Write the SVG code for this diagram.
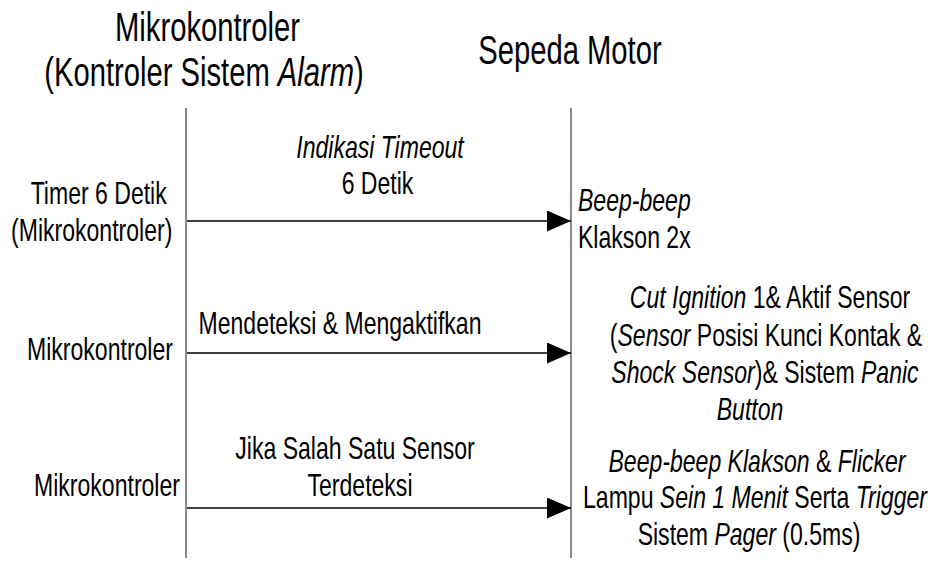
<svg xmlns="http://www.w3.org/2000/svg" width="941" height="562" viewBox="0 0 941 562">
<style>
text{font-family:"Liberation Sans",Arial,sans-serif;fill:#000;}
.h{font-size:40px;text-anchor:middle;}
.t{font-size:32px;text-anchor:middle;}
.l{font-size:32px;text-anchor:start;}
.i{font-style:italic;}
.life{stroke:#6e6e6e;stroke-width:1.6;fill:none;}
.msg{stroke:#000;stroke-width:1.4;fill:none;marker-end:url(#ah);}
</style>
<defs>
<marker id="ah" markerUnits="userSpaceOnUse" markerWidth="24" markerHeight="21" refX="24" refY="10.5" orient="auto">
<path d="M0,0 L24,10.5 L0,21 Z" fill="#000"/>
</marker>
</defs>
<rect width="941" height="562" fill="#fff"/>

<g id="mikrokontroler-lifeline">
<text class="h" transform="translate(207.5,41) scale(0.73,1)">Mikrokontroler</text>
<text class="h" transform="translate(204,86) scale(0.73,1)">(Kontroler Sistem <tspan class="i">Alarm</tspan>)</text>
<line class="life" x1="186" y1="108" x2="186" y2="558"/>
</g>

<g id="sepeda-motor-lifeline">
<text class="h" transform="translate(570,64) scale(0.73,1)">Sepeda Motor</text>
<line class="life" x1="571" y1="108" x2="571" y2="558"/>
</g>

<g id="left-label-1">
<text class="t" transform="translate(98.7,204) scale(0.72,1)">Timer 6 Detik</text>
<text class="t" transform="translate(91.7,241) scale(0.72,1)">(Mikrokontroler)</text>
</g>
<g id="left-label-2">
<text class="t" transform="translate(100,360) scale(0.72,1)">Mikrokontroler</text>
</g>
<g id="left-label-3">
<text class="t" transform="translate(107,496) scale(0.72,1)">Mikrokontroler</text>
</g>

<g id="right-label-1">
<text class="l i" transform="translate(578,211) scale(0.72,1)">Beep-beep</text>
<text class="l" transform="translate(578,248) scale(0.72,1)">Klakson 2x</text>
</g>
<g id="right-label-2">
<text class="t" transform="translate(770,308) scale(0.72,1)"><tspan class="i">Cut Ignition</tspan> 1&amp; Aktif Sensor</text>
<text class="t" transform="translate(766,346) scale(0.72,1)">(<tspan class="i">Sensor</tspan> Posisi Kunci Kontak &amp;</text>
<text class="t" transform="translate(765,383) scale(0.72,1)"><tspan class="i">Shock Sensor</tspan>)&amp; Sistem <tspan class="i">Panic</tspan></text>
<text class="t i" transform="translate(750,420) scale(0.72,1)">Button</text>
</g>
<g id="right-label-3">
<text class="t" transform="translate(757,472) scale(0.72,1)"><tspan class="i">Beep-beep Klakson</tspan> &amp; <tspan class="i">Flicker</tspan></text>
<text class="t" transform="translate(755,508) scale(0.72,1)">Lampu <tspan class="i">Sein 1 Menit</tspan> Serta <tspan class="i">Trigger</tspan></text>
<text class="t" transform="translate(749,545) scale(0.72,1)">Sistem <tspan class="i">Pager</tspan> (0.5ms)</text>
</g>

<g id="connectors">
<line class="msg" x1="187" y1="221" x2="571" y2="221"/>
<line class="msg" x1="187" y1="353" x2="571" y2="353"/>
<line class="msg" x1="187" y1="508" x2="571" y2="508"/>
<text class="t i" transform="translate(380,158) scale(0.72,1)">Indikasi Timeout</text>
<text class="t" transform="translate(377.5,194) scale(0.72,1)">6 Detik</text>
<text class="t" transform="translate(340,334) scale(0.72,1)">Mendeteksi &amp; Mengaktifkan</text>
<text class="t" transform="translate(355,459) scale(0.72,1)">Jika Salah Satu Sensor</text>
<text class="t" transform="translate(360,496) scale(0.72,1)">Terdeteksi</text>
</g>
</svg>
